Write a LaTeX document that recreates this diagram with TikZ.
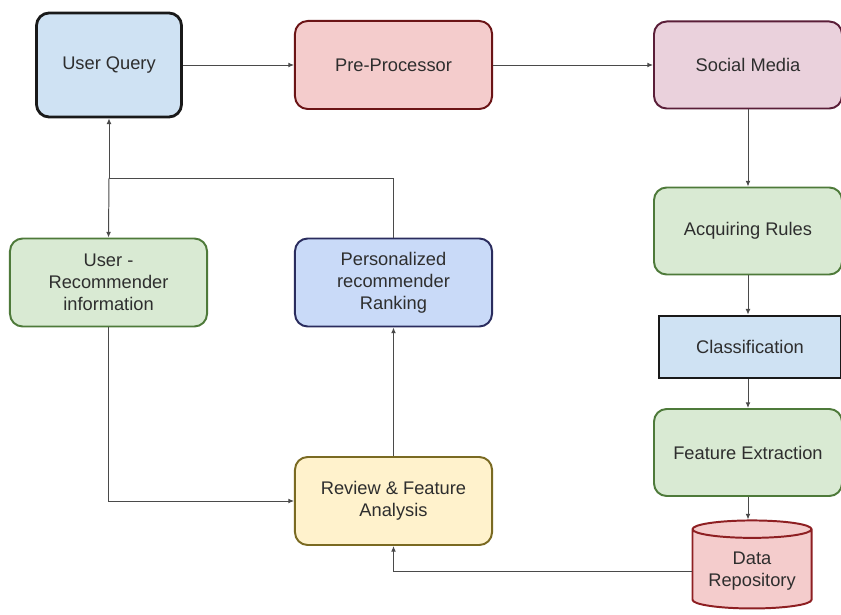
\documentclass[tikz,border=0pt]{standalone}
\usepackage{fontspec}
\setmainfont{Liberation Sans}
\usetikzlibrary{arrows.meta,positioning,shapes.geometric,calc}
\definecolor{ink}{HTML}{2E2E2E}
\definecolor{wire}{HTML}{4A4A4A}
\definecolor{qblue}{HTML}{CFE2F3}
\definecolor{pblue}{HTML}{C9DAF8}
\definecolor{pnavy}{HTML}{2A2C5E}
\definecolor{rosefill}{HTML}{F4CCCC}
\definecolor{roseline}{HTML}{6B1416}
\definecolor{repoline}{HTML}{8E1F22}
\definecolor{mauvefill}{HTML}{EAD1DC}
\definecolor{mauveline}{HTML}{5A1E38}
\definecolor{leaf}{HTML}{D9EAD3}
\definecolor{leafline}{HTML}{4E7A3A}
\definecolor{sand}{HTML}{FFF2CC}
\definecolor{sandline}{HTML}{7A6A22}
\tikzset{
  block/.style={rounded corners=9pt,line width=1.4pt,align=center,text=ink,
    font=\fontsize{13}{15.6}\selectfont,minimum width=4.925cm,minimum height=2.2cm},
  sideblock/.style={block,minimum width=4.7cm,minimum height=2.175cm},
  flow/.style={-{Latex[length=1.4mm,width=1.2mm]},line width=.7pt,draw=wire},
  wireline/.style={line width=.7pt,draw=wire}
}
\begin{document}
\begin{tikzpicture}[x=0.025cm,y=-0.025cm]
  \useasboundingbox (0,0) rectangle (841,615);

  % top row
  \node[block,draw=black!90,line width=2pt,fill=qblue,minimum width=3.625cm,minimum height=2.6cm] (query) at (109,65) {User Query};
  \node[block,draw=roseline,fill=rosefill] (prep) at (393.5,65) {Pre-Processor};
  \node[sideblock,draw=mauveline,fill=mauvefill] (social) at (748,65) {Social Media};

  % right column
  \node[sideblock,draw=leafline,fill=leaf] (rules) at (748,231) {Acquiring Rules};
  \node[block,rounded corners=0pt,draw=black!90,line width=2pt,fill=qblue,minimum width=4.55cm,minimum height=1.55cm] (classify) at (750,347) {Classification};
  \node[sideblock,draw=leafline,fill=leaf] (extract) at (748,452.5) {Feature Extraction};
  \node[cylinder,shape border rotate=90,aspect=.18,draw=repoline,line width=1.4pt,fill=rosefill,text=ink,
    font=\fontsize{13}{15.6}\selectfont,align=center,minimum width=2.975cm,minimum height=2.2cm] (repo) at (752,571) {Data\\Repository};

  % left side
  \node[block,draw=leafline,fill=leaf] (userrec) at (108.5,282.5) {User -\\Recommender\\information};
  \node[block,draw=pnavy,fill=pblue] (ranking) at (393.5,282.5) {Personalized\\recommender\\Ranking};
  \node[block,draw=sandline,fill=sand] (review) at (393.5,501) {Review \& Feature\\Analysis};

  \coordinate (split) at (109,178);

  \draw[flow] (query.east) -- (prep.west);
  \draw[flow] (prep.east) -- (social.west);
  \draw[flow] (social.south) -- (rules.north);
  \draw[flow] (rules.south) -- (rules.south |- classify.north);
  \draw[flow] (rules.south |- classify.south) -- (extract.north);
  \draw[flow] (extract.south) -- (extract.south |- repo.north);
  \draw[flow] (repo.west) -| (review.south);
  \draw[flow] (review.north) -- (ranking.south);
  \draw[flow] (userrec.south) |- (review.west);
  \draw[wireline] (ranking.north) |- (split);
  \draw[flow] (split) -- (query.south);
  \draw[flow] (split) -- (userrec.north);
\end{tikzpicture}
\end{document}
